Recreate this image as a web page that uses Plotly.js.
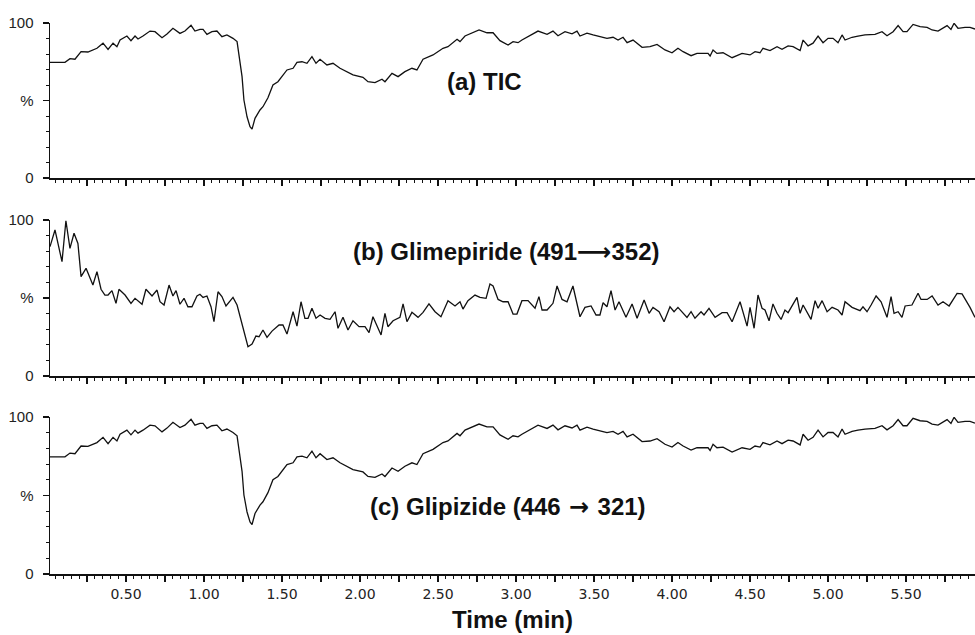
<!DOCTYPE html>
<html>
<head>
<meta charset="utf-8">
<script src="https://cdn.plot.ly/plotly-3.0.1.min.js"></script>
<style>html,body{margin:0;padding:0;background:#fff;}#chart{width:975px;height:635px;}</style>
</head>
<body>
<div id="chart"></div>
<script>
// ---- Data (time in min, relative abundance in %) ----
const ticTime = [0.013,0.109,0.141,0.173,0.212,0.256,0.314,0.353,0.385,0.417,0.442,0.462,0.506,0.532,0.558,0.577,0.609,0.654,0.686,0.731,0.763,0.801,0.846,0.878,0.917,0.942,0.974,0.994,1.019,1.051,1.083,1.115,1.147,1.186,1.212,1.224,1.244,1.256,1.276,1.295,1.308,1.327,1.359,1.378,1.410,1.442,1.474,1.532,1.571,1.596,1.628,1.660,1.692,1.718,1.744,1.788,1.827,1.872,1.955,2.019,2.051,2.096,2.141,2.160,2.205,2.244,2.288,2.333,2.365,2.404,2.468,2.532,2.564,2.622,2.641,2.673,2.737,2.763,2.814,2.853,2.897,2.949,2.981,3.013,3.038,3.077,3.141,3.199,3.237,3.269,3.314,3.359,3.391,3.410,3.455,3.494,3.538,3.583,3.622,3.654,3.686,3.712,3.750,3.808,3.859,3.904,3.955,4.000,4.038,4.071,4.122,4.160,4.231,4.244,4.263,4.288,4.327,4.385,4.449,4.500,4.532,4.564,4.583,4.628,4.673,4.705,4.744,4.776,4.821,4.840,4.872,4.904,4.936,4.968,5.000,5.032,5.064,5.090,5.109,5.154,5.192,5.237,5.301,5.346,5.378,5.417,5.449,5.481,5.506,5.545,5.590,5.635,5.667,5.705,5.763,5.788,5.808,5.833,5.878,5.910,5.942];
const ticValue = [74.6,74.6,77,76.6,81.5,81.3,83.7,87,83,87,84.7,89,91.6,88.6,91.6,89.7,91.6,94.8,94.4,90.5,92.9,96.6,93.3,94.8,98.5,94.8,95.9,95.9,92.7,94.4,94.8,91.2,92.3,90.1,88,78.3,65.4,50.3,39.5,33.1,31.5,38.5,43.9,46,51.8,60,62.1,69.7,70.8,74.6,75,74,78.3,74,76.6,72.9,74,70.8,66.5,65,62.1,61.5,63.7,62.1,67.5,65.4,68.6,70.8,69.7,76.6,79.4,83.7,84.7,89.5,88,91.6,94.4,95.5,93.7,93.7,88.6,85.8,88,87.3,89,91.2,94.8,92.7,94.8,91.8,94.4,93,94.8,91.6,93.5,92.3,91.2,90.1,90.8,89,90.8,87.3,89,84.3,84.7,86.2,82.6,80.8,83.7,81.5,78.9,80.4,80.4,78.7,82.6,80.4,80.8,77.6,80.4,79.4,81.5,80.8,83.7,82.2,84.7,83,85.2,84.7,82.2,89,85.2,87,91.6,87.3,90.1,90.1,87.3,92.3,89,90.8,91.6,92.3,92.7,94.4,91.8,94.4,98.3,94.4,94.4,99.1,97.6,97.2,95.5,94.8,98.3,95.9,99.8,96.6,97.2,97.2,96.1];

const glimTime = [0.013,0.045,0.090,0.115,0.141,0.167,0.192,0.212,0.244,0.288,0.314,0.340,0.365,0.385,0.410,0.436,0.455,0.494,0.532,0.558,0.603,0.628,0.667,0.699,0.718,0.744,0.776,0.801,0.821,0.846,0.872,0.897,0.923,0.955,0.974,0.994,1.019,1.045,1.064,1.090,1.115,1.141,1.186,1.212,1.282,1.308,1.333,1.353,1.378,1.404,1.436,1.481,1.506,1.532,1.571,1.596,1.622,1.647,1.667,1.692,1.718,1.744,1.776,1.808,1.840,1.859,1.891,1.923,1.955,1.994,2.032,2.058,2.083,2.135,2.160,2.179,2.212,2.256,2.276,2.301,2.333,2.372,2.404,2.442,2.481,2.519,2.564,2.609,2.641,2.660,2.692,2.737,2.769,2.808,2.833,2.853,2.885,2.917,2.949,2.981,3.006,3.038,3.077,3.122,3.147,3.167,3.199,3.237,3.263,3.295,3.327,3.365,3.410,3.442,3.481,3.513,3.538,3.558,3.583,3.609,3.635,3.660,3.705,3.744,3.776,3.821,3.853,3.878,3.917,3.949,3.987,4.013,4.038,4.096,4.122,4.147,4.186,4.205,4.237,4.276,4.321,4.353,4.385,4.436,4.481,4.500,4.526,4.551,4.577,4.596,4.622,4.647,4.673,4.699,4.724,4.744,4.801,4.821,4.840,4.891,4.917,4.936,4.962,4.994,5.026,5.064,5.090,5.109,5.154,5.205,5.224,5.250,5.276,5.308,5.340,5.378,5.404,5.423,5.449,5.474,5.494,5.538,5.577,5.596,5.635,5.667,5.705,5.737,5.776,5.827,5.859,5.910,5.942];
const glimValue = [82.9,93.6,73.3,99.5,81.8,91.5,85,63.7,69,58.3,66.9,55.6,51.9,51.9,54.7,46.6,55.6,51.9,46.6,49.8,46,55.6,51.3,55.1,47.6,45.5,58.3,51.3,54.7,46,49.8,44.4,44.4,51.3,52.4,50.4,51.3,44.4,34.8,54,50.9,44.9,50.4,45.5,18.8,20.5,25.6,25.2,29.5,24.8,28.8,32.7,32.7,26.9,41.2,32,47.6,37,37,43.4,37,39.1,37,36.3,41.2,30.6,37.6,29.5,35.4,31.6,31.6,27.8,38,26.3,40.2,31.6,35.4,37.6,46.2,34.8,40.8,37.6,40.8,46.2,41.2,38,48.3,44.9,47.6,42.9,48.3,51.9,50.4,49.8,59,57.7,49.1,47.6,47.6,39.7,39.7,48.3,48.3,43.4,50.9,42.3,42.3,46.6,57.7,49.1,47.6,57.7,38,44,44.9,39.1,39.1,47,44.4,54.7,42.3,47.6,37.6,46.2,37,48.7,40.2,44,41.2,34.8,44.4,41.2,44,37.6,41.2,37,41.2,39.1,43.4,37.6,40.6,40.6,34.8,47.6,32,44,30.6,51.9,43.4,42.3,35.4,46.2,40.2,36.3,42.3,40.6,50.4,40.2,45.5,36.3,48.3,43.4,48.3,41.2,44,42.3,39.1,47.6,44,41.9,44.4,41.2,45.5,51.3,47.6,37.6,50.9,40.2,41.2,37.6,44.9,45.5,53,49.1,49.1,51.3,45.5,47.6,44.9,53,52.6,44,37.6];

// Glipizide trace reads essentially the same as the TIC in the reference
const glipTime = ticTime.slice();
const glipValue = ticValue.slice();

const xTickVals = [0.25,0.50,0.75,1.00,1.25,1.50,1.75,2.00,2.25,2.50,2.75,3.00,3.25,3.50,3.75,4.00,4.25,4.50,4.75,5.00,5.25,5.50,5.75];
const xTickText = ["","0.50","","1.00","","1.50","","2.00","","2.50","","3.00","","3.50","","4.00","","4.50","","5.00","","5.50",""];
const yTickVals = [0,50,100];
const yTickText = ["0","%","100"];
const panelLabels = ["(a) TIC","(b) Glimepiride (491<span style='font-family:DejaVu Sans'>⟶</span>352)","(c) Glipizide (446<span style='font-family:DejaVu Sans'> → </span>321)"];

// ---- Figure ----
const lineStyle = {color:'#111', width:1.3};
const traces = [
  {x:ticTime, y:ticValue, xaxis:'x', yaxis:'y', mode:'lines', line:lineStyle, hoverinfo:'skip'},
  {x:glimTime, y:glimValue, xaxis:'x2', yaxis:'y2', mode:'lines', line:lineStyle, hoverinfo:'skip'},
  {x:glipTime, y:glipValue, xaxis:'x3', yaxis:'y3', mode:'lines', line:lineStyle, hoverinfo:'skip'}
];

const tickFont = {family:'DejaVu Sans, Arial, sans-serif', size:14, color:'#222'};
function xAxis(anchor, showLabels){
  return {
    anchor:anchor, range:[0.013,5.942], showgrid:false, zeroline:false,
    showline:true, linecolor:'#111', linewidth:2,
    tickmode:'array', tickvals:xTickVals, ticktext: showLabels ? xTickText : xTickVals.map(()=>''),
    ticks:'outside', ticklen:6, tickwidth:1.3, tickcolor:'#111',
    minor:{dtick:0.05, tick0:0, ticks:'outside', ticklen:3, tickwidth:1, tickcolor:'#111'},
    tickfont:tickFont, fixedrange:true
  };
}
function yAxis(anchor, domain){
  return {
    anchor:anchor, domain:domain, range:[0,100], showgrid:false, zeroline:false,
    showline:true, linecolor:'#111', linewidth:1.5,
    tickmode:'array', tickvals:yTickVals, ticktext:yTickText,
    ticks:'outside', ticklen:6, tickwidth:1.3, tickcolor:'#111',
    ticklabelstandoff:6,
    minor:{dtick:10, tick0:0, ticks:'outside', ticklen:3, tickwidth:1, tickcolor:'#111'},
    tickfont:{family:'Liberation Sans, Arial, sans-serif', size:15, color:'#222'}, fixedrange:true
  };
}

const annFont = {family:'Liberation Sans, Arial, sans-serif', size:24, color:'#111', weight:'bold'};
const layout = {
  width:975, height:635,
  margin:{l:50, r:0, t:23, b:61},
  paper_bgcolor:'#fff', plot_bgcolor:'#fff',
  showlegend:false,
  xaxis:xAxis('y', false),
  xaxis2:xAxis('y2', false),
  xaxis3:Object.assign(xAxis('y3', true), {title:{text:'<b>Time (min)</b>', font:{family:'Liberation Sans, Arial, sans-serif', size:24, color:'#111'}, standoff:10}}),
  yaxis:yAxis('x', [0.7187,1]),
  yaxis2:yAxis('x2', [0.3593,0.6425]),
  yaxis3:yAxis('x3', [0,0.285]),
  annotations:[
    {text:'<b>'+panelLabels[0]+'</b>', xref:'paper', yref:'paper', x:0.470, y:0.893, xanchor:'center', yanchor:'middle', showarrow:false, font:annFont},
    {text:'<b>'+panelLabels[1]+'</b>', xref:'paper', yref:'paper', x:0.494, y:0.584, xanchor:'center', yanchor:'middle', showarrow:false, font:annFont},
    {text:'<b>'+panelLabels[2]+'</b>', xref:'paper', yref:'paper', x:0.495, y:0.1216, xanchor:'center', yanchor:'middle', showarrow:false, font:annFont}
  ]
};

Plotly.newPlot('chart', traces, layout, {staticPlot:true, displayModeBar:false});
</script>
</body>
</html>
